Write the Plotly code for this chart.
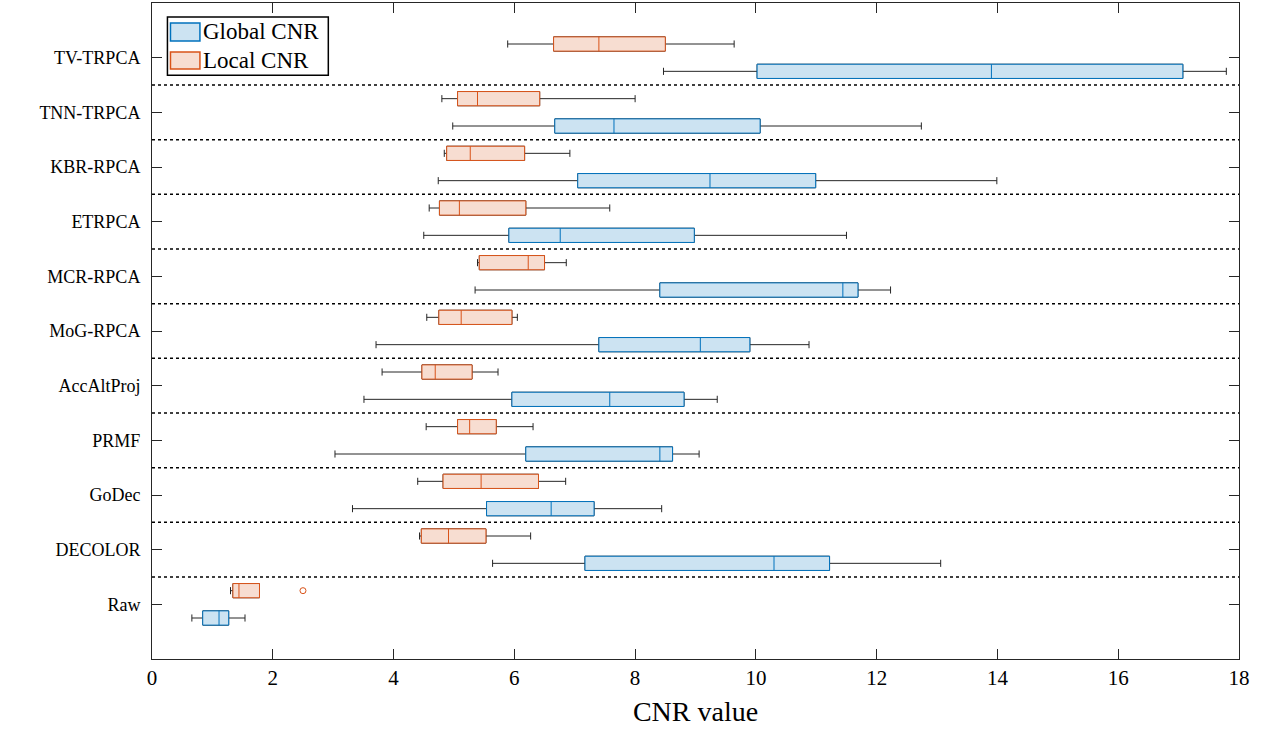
import plotly.graph_objects as go

categories = ["Raw", "DECOLOR", "GoDec", "PRMF", "AccAltProj", "MoG-RPCA",
              "MCR-RPCA", "ETRPCA", "KBR-RPCA", "TNN-TRPCA", "TV-TRPCA"]
positions = list(range(1, len(categories) + 1))

# Global CNR box statistics (bottom-to-top order of categories)
global_lo  = [0.66, 5.64, 3.32, 3.03, 3.51, 3.71, 5.35, 4.50, 4.74, 4.98, 8.47]
global_q1  = [0.84, 7.17, 5.54, 6.19, 5.96, 7.40, 8.41, 5.91, 7.05, 6.67, 10.02]
global_med = [1.11, 10.30, 6.61, 8.41, 7.58, 9.08, 11.44, 6.76, 9.24, 7.65, 13.90]
global_q3  = [1.27, 11.22, 7.32, 8.62, 8.81, 9.90, 11.69, 8.98, 10.99, 10.07, 17.07]
global_hi  = [1.54, 13.06, 8.44, 9.06, 9.36, 10.88, 12.23, 11.50, 13.99, 12.74, 17.79]

# Local CNR box statistics
local_lo  = [1.30, 4.43, 4.40, 4.54, 3.81, 4.55, 5.39, 4.59, 4.84, 4.80, 5.89]
local_q1  = [1.34, 4.46, 4.82, 5.06, 4.47, 4.75, 5.42, 4.76, 4.88, 5.06, 6.65]
local_med = [1.44, 4.91, 5.45, 5.26, 4.69, 5.12, 6.23, 5.09, 5.27, 5.39, 7.40]
local_q3  = [1.78, 5.53, 6.40, 5.70, 5.30, 5.96, 6.50, 6.19, 6.17, 6.42, 8.50]
local_hi  = [1.78, 6.27, 6.85, 6.31, 5.73, 6.05, 6.86, 7.58, 6.92, 8.00, 9.64]

# Outliers
local_outlier_cat = ["Raw"]
local_outlier_val = [2.50]

x_ticks = list(range(0, 19, 2))
series_names = ["Global CNR", "Local CNR"]

BLUE = "#0072BD"
BLUE_FILL = "rgb(204,227,242)"
ORANGE = "#D95319"
ORANGE_FILL = "rgb(247,221,209)"
WHISK = "#262626"
FONT = "Liberation Serif"

OFF = 0.25
BW = 0.26

g_pos = [p - OFF for p in positions]
l_pos = [p + OFF for p in positions]

fig = go.Figure()

# whisker layers (dark)
for pos, lo, q1, med, q3, hi in [
    (g_pos, global_lo, global_q1, global_med, global_q3, global_hi),
    (l_pos, local_lo, local_q1, local_med, local_q3, local_hi),
]:
    fig.add_trace(go.Box(
        orientation="h", y=pos, q1=q1, median=med, q3=q3,
        lowerfence=lo, upperfence=hi, width=BW, whiskerwidth=0.5,
        line=dict(color=WHISK, width=1), fillcolor="rgba(0,0,0,0)",
        boxpoints=False, showlegend=False, hoverinfo="skip",
    ))

# coloured boxes
fig.add_trace(go.Box(
    orientation="h", y=g_pos, q1=global_q1, median=global_med, q3=global_q3,
    lowerfence=global_q1, upperfence=global_q3, width=BW, whiskerwidth=0,
    line=dict(color=BLUE, width=1), fillcolor=BLUE_FILL,
    boxpoints=False, name=series_names[0], showlegend=False,
))
fig.add_trace(go.Box(
    orientation="h", y=l_pos, q1=local_q1, median=local_med, q3=local_q3,
    lowerfence=local_q1, upperfence=local_q3, width=BW, whiskerwidth=0,
    line=dict(color=ORANGE, width=1), fillcolor=ORANGE_FILL,
    boxpoints=False, name=series_names[1], showlegend=False,
))

# outliers
fig.add_trace(go.Scatter(
    x=local_outlier_val,
    y=[positions[categories.index(c)] + OFF for c in local_outlier_cat],
    mode="markers",
    marker=dict(symbol="circle-open", color=ORANGE, size=6, line=dict(width=1)),
    showlegend=False, hoverinfo="skip",
))

shapes = []
for p in positions[:-1]:
    shapes.append(dict(type="line", xref="x domain", yref="y",
                       x0=0, x1=1, y0=p + 0.5, y1=p + 0.5,
                       line=dict(color="black", width=1.5, dash="3px,3px"),
                       layer="above"))

# custom legend (MATLAB-style wide swatches)
shapes.append(dict(type="rect", xref="paper", yref="paper",
                   x0=0.0142, x1=0.1622, y0=0.890, y1=0.9787,
                   fillcolor="white", line=dict(color="black", width=1.5),
                   layer="above"))
legend_rows = [(series_names[0], BLUE, BLUE_FILL, 0.9421, 0.9695, 0.9558),
               (series_names[1], ORANGE, ORANGE_FILL, 0.8994, 0.9253, 0.9116)]
annotations = []
for name, edge, fill, y0, y1, yc in legend_rows:
    shapes.append(dict(type="rect", xref="paper", yref="paper",
                       x0=0.0170, x1=0.0441, y0=y0, y1=y1,
                       fillcolor=fill, line=dict(color=edge, width=1.5),
                       layer="above"))
    annotations.append(dict(xref="paper", yref="paper", x=0.0455, y=yc,
                            xanchor="left", yanchor="middle", showarrow=False,
                            text=name, font=dict(family=FONT, size=23, color="black")))

fig.update_layout(
    width=1271, height=731,
    margin=dict(l=151.5, r=31.5, t=3, b=72),
    plot_bgcolor="white", paper_bgcolor="white",
    boxmode="overlay",
    showlegend=False,
    font=dict(family=FONT, size=18, color="black"),
    shapes=shapes,
    annotations=annotations,
    xaxis=dict(range=[0, 18], tickvals=x_ticks, ticks="inside", ticklen=10,
               tickcolor=WHISK, showline=True, linecolor=WHISK, linewidth=1,
               mirror="ticks", showgrid=False, zeroline=False,
               tickfont=dict(size=21),
               title=dict(text="CNR value", font=dict(size=28), standoff=12)),
    yaxis=dict(range=[0, 12], tickvals=positions, ticktext=categories,
               ticks="inside", ticklen=10, tickcolor=WHISK, showline=True,
               linecolor=WHISK, linewidth=1, mirror="ticks", showgrid=False,
               zeroline=False, tickfont=dict(size=18), ticklabelstandoff=7),
)

fig.write_html("out.html")
